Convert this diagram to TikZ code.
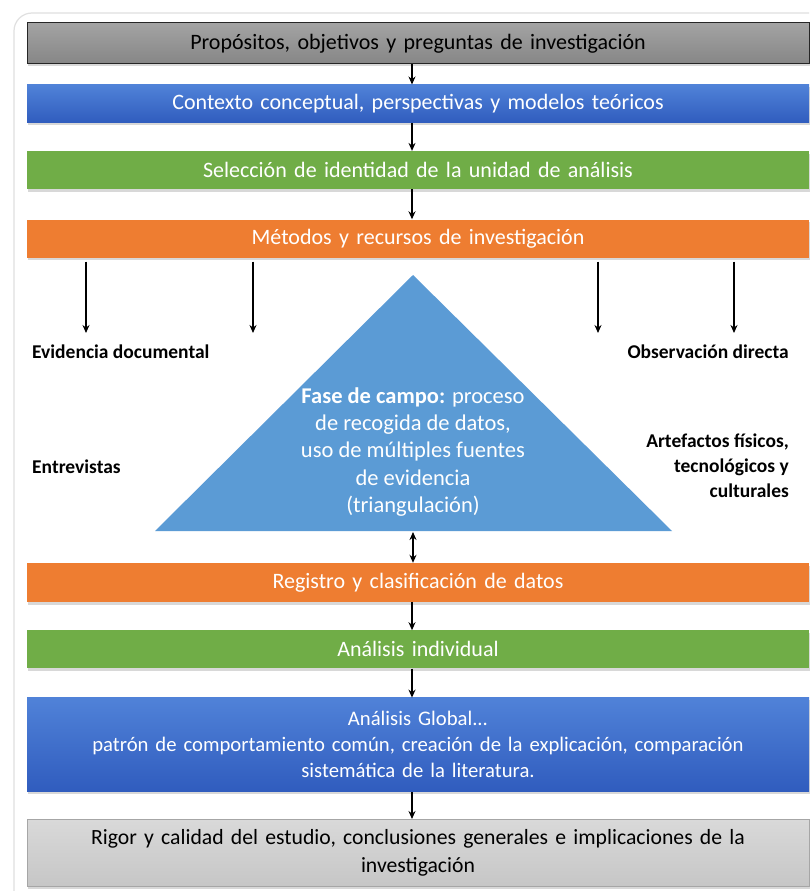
\documentclass[tikz,border=0pt]{standalone}
\usepackage{fontspec}
\setmainfont{Carlito}
\usepackage{tikz}
\usetikzlibrary{shapes.geometric,arrows.meta,positioning,shadows}
\definecolor{DarkGrayTop}{HTML}{A3A3A3}
\definecolor{DarkGrayBot}{HTML}{868686}
\definecolor{BoxBlueTop}{HTML}{5082D8}
\definecolor{BoxBlueBot}{HTML}{305CBE}
\definecolor{BoxGreen}{HTML}{70AD47}
\definecolor{BoxOrange}{HTML}{EE7D31}
\definecolor{TriBlue}{HTML}{5B9BD5}
\definecolor{LightGrayTop}{HTML}{D9D9D9}
\definecolor{LightGrayBot}{HTML}{C6C6C6}
\definecolor{LightGrayLine}{HTML}{A6A6A6}
\tikzset{
  FB/.style={rectangle,minimum width=782pt,text width=770pt,
             inner sep=0pt,align=center,
             font=\fontsize{22}{25}\selectfont,
             drop shadow={shadow xshift=1pt,shadow yshift=-2.5pt,opacity=.3}},
  arr/.style={-{Stealth[length=8pt,width=7pt]},line width=1.6pt},
  darr/.style={{Stealth[length=8pt,width=7pt]}-{Stealth[length=8pt,width=7pt]},line width=1.6pt},
  nGray/.style={FB,top color=DarkGrayTop,bottom color=DarkGrayBot,draw=black!85,line width=1pt,text=black},
  nBlue/.style={FB,top color=BoxBlueTop,bottom color=BoxBlueBot,text=white},
  nGreen/.style={FB,fill=BoxGreen,text=white},
  nOrange/.style={FB,fill=BoxOrange,text=white},
  nLight/.style={FB,top color=LightGrayTop,bottom color=LightGrayBot,draw=LightGrayLine,line width=1pt,text=black},
  src/.style={font=\fontsize{19.5}{25}\selectfont\bfseries,text=black,inner sep=0pt}
}

\begin{document}
\begin{tikzpicture}[x=1pt,y=-1pt]
  \useasboundingbox[fill=white] (0,0) rectangle (809,891);
  \draw[black!12,line width=1.2pt,rounded corners=18pt] (14,891) |- (809,13);

  \node[nGray,minimum height=41pt] (prop) at (418,43.5) {Propósitos, objetivos y preguntas de investigación};
  \node[nBlue,minimum height=38pt,below=20pt of prop] (ctx) {Contexto conceptual, perspectivas y modelos teóricos};
  \node[nGreen,minimum height=38pt,below=28pt of ctx] (sel) {Selección de identidad de la unidad de análisis};
  \node[nOrange,minimum height=38pt,below=30pt of sel] (met) {Métodos y recursos de investigación};

  % fase de campo
  \coordinate (apex) at (413,275);
  \coordinate (baseR) at (672,531);
  \coordinate (baseL) at (155,531);
  \fill[TriBlue] (apex) -- (baseR) -- (baseL) -- cycle;
  \node[text=white,align=center,font=\fontsize{22.5}{27.3}\selectfont,inner sep=0pt] (fase) at (413,452)
    {\textbf{Fase de campo:} proceso\\de recogida de datos,\\uso de múltiples fuentes\\de evidencia\\(triangulación)};

  \node[nOrange,minimum height=39pt] (reg) at (418,582.5) {Registro y clasificación de datos};
  \node[nGreen,minimum height=38pt,below=28pt of reg] (ind) {Análisis individual};
  \node[nBlue,minimum height=94pt,below=29pt of ind,font=\fontsize{20.7}{26}\selectfont] (glob)
    {Análisis Global...\\patrón de comportamiento común, creación de la explicación, comparación\\sistemática de la literatura.};
  \node[nLight,minimum height=67pt,below=27pt of glob,font=\fontsize{21.7}{28}\selectfont] (rig)
    {Rigor y calidad del estudio, conclusiones generales e implicaciones de la\\investigación};

  % fuentes de evidencia
  \node[src,anchor=west] (doc) at (32,352) {Evidencia documental};
  \node[src,anchor=west] (ent) at (32,467) {Entrevistas};
  \node[src,anchor=east] (obs) at (789,352) {Observación directa};
  \node[src,anchor=east,align=right] (art) at (789,466) {Artefactos físicos,\\tecnológicos y\\culturales};

  \coordinate (t1) at (86,333);
  \coordinate (t2) at (253,333);
  \coordinate (t3) at (598,333);
  \coordinate (t4) at (734,333);
  \foreach \t in {t1,t2,t3,t4}
    \draw[arr] ([yshift=-4pt]met.south -| \t) -- (\t);

  \draw[arr] ([xshift=-6pt]prop.south) -- ([xshift=-6pt]ctx.north);
  \draw[arr] ([xshift=-6pt]ctx.south) -- ([xshift=-6pt]sel.north);
  \draw[arr] ([xshift=-6pt]sel.south) -- ([xshift=-6pt]met.north);
  \draw[darr] ([yshift=-1pt]apex |- baseL) -- ([xshift=-5pt]reg.north);
  \draw[arr] ([xshift=-6pt]reg.south) -- ([xshift=-6pt]ind.north);
  \draw[arr] ([xshift=-6pt]ind.south) -- ([xshift=-6pt]glob.north);
  \draw[arr] ([xshift=-6pt]glob.south) -- ([xshift=-6pt]rig.north);
\end{tikzpicture}
\end{document}
